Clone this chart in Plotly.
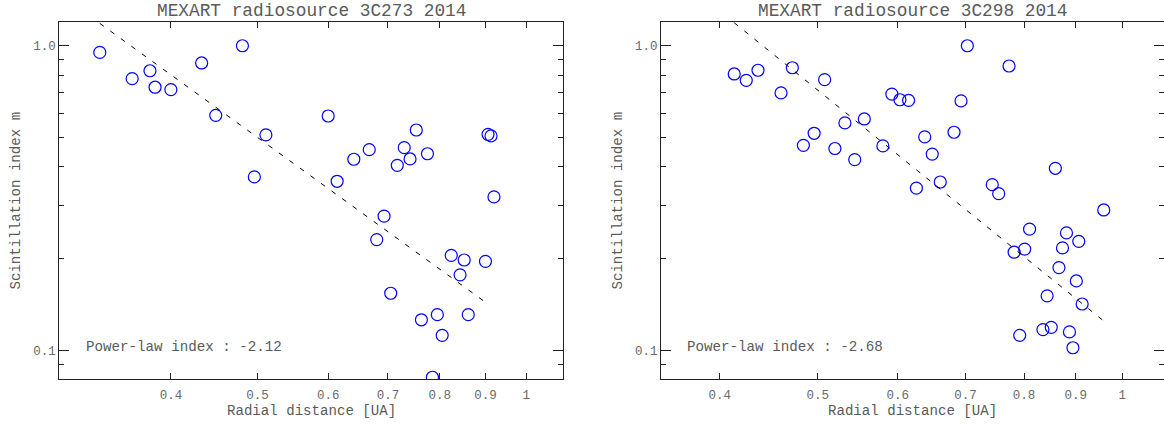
import numpy as np
import plotly.graph_objects as go

# ---------------- data: 3C273 ----------------
r_3c273 = [0.333, 0.362, 0.379, 0.384, 0.400, 0.433, 0.481, 0.449, 0.511, 0.496,
           0.600, 0.614, 0.641, 0.667, 0.717, 0.730, 0.741, 0.753, 0.775, 0.906,
           0.913, 0.920, 0.693, 0.680, 0.824, 0.852, 0.900, 0.843, 0.705, 0.763,
           0.795, 0.861, 0.805, 0.785]
m_3c273 = [0.951, 0.780, 0.828, 0.731, 0.718, 0.878, 1.000, 0.591, 0.510, 0.371,
           0.588, 0.359, 0.424, 0.456, 0.405, 0.463, 0.425, 0.529, 0.442, 0.512,
           0.506, 0.319, 0.276, 0.231, 0.205, 0.198, 0.196, 0.177, 0.154, 0.126,
           0.131, 0.131, 0.112, 0.0816]
index_3c273 = -2.12
amp_3c273 = 0.1151
fit_r_3c273 = [0.333, 0.907]

# ---------------- data: 3C298 ----------------
r_3c298 = [0.4135, 0.425, 0.4365, 0.460, 0.472, 0.508, 0.484, 0.496, 0.532, 0.520,
           0.544, 0.556, 0.580, 0.592, 0.603, 0.615, 0.638, 0.649, 0.626, 0.661,
           0.682, 0.693, 0.703, 0.773, 0.744, 0.755, 0.859, 0.959, 0.810, 0.782,
           0.801, 0.881, 0.906, 0.873, 0.866, 0.901, 0.843, 0.913, 0.835, 0.851,
           0.887, 0.792, 0.894]
m_3c298 = [0.808, 0.770, 0.831, 0.700, 0.847, 0.774, 0.471, 0.516, 0.558, 0.460,
           0.423, 0.575, 0.469, 0.694, 0.665, 0.662, 0.502, 0.441, 0.341, 0.357,
           0.520, 0.659, 1.000, 0.858, 0.350, 0.327, 0.396, 0.289, 0.250, 0.210,
           0.215, 0.243, 0.228, 0.217, 0.187, 0.169, 0.151, 0.142, 0.117, 0.119,
           0.115, 0.112, 0.102]
index_3c298 = -2.68
amp_3c298 = 0.1116
fit_r_3c298 = [0.4135, 0.958]

titles = ["MEXART radiosource 3C273 2014", "MEXART radiosource 3C298 2014"]
x_label = "Radial distance [UA]"
y_label = "Scintillation index m"
x_tickvals = [0.4, 0.5, 0.6, 0.7, 0.8, 0.9, 1.0]
x_ticktext = ["0.4", "0.5", "0.6", "0.7", "0.8", "0.9", "1"]
y_tickvals = [0.1, 1.0]
y_ticktext = ["0.1", "1.0"]
y_minor = [0.09, 0.2, 0.3, 0.4, 0.5, 0.6, 0.7, 0.8, 0.9]

FONT = "Courier New, Liberation Mono, monospace"
TXT = "#5a5a5a"
TICKTXT = "#6a6a6a"
AX = "#222222"
BLUE = "#0000ff"

W, H = 1164, 424
T, B = 22, 45
PH = H - T - B

fig = go.Figure()


def add_panel(r, m, idx, amp, fit_r, xa, ya):
    fig.add_trace(go.Scatter(
        x=r, y=m, mode="markers", xaxis=xa, yaxis=ya, showlegend=False,
        marker=dict(symbol="circle-open", size=12, color=BLUE,
                    line=dict(width=1.2, color=BLUE))))
    fr = np.array(fit_r)
    fig.add_trace(go.Scatter(
        x=fr, y=amp * fr ** idx, mode="lines", xaxis=xa, yaxis=ya,
        showlegend=False,
        line=dict(color="black", width=1, dash="5px,8px")))


add_panel(r_3c273, m_3c273, index_3c273, amp_3c273, fit_r_3c273, "x", "y")
add_panel(r_3c298, m_3c298, index_3c298, amp_3c298, fit_r_3c298, "x2", "y2")


def xaxis(dom, lo, anchor):
    return dict(type="log", domain=dom, range=[np.log10(lo), np.log10(1.1)],
                anchor=anchor, tickvals=x_tickvals, ticktext=x_ticktext,
                ticks="inside", ticklen=6, tickcolor=AX, tickwidth=1,
                showline=True, linecolor=AX, linewidth=1, mirror="ticks",
                showgrid=False, zeroline=False, automargin=False,
                ticklabelstandoff=4,
                tickfont=dict(family=FONT, size=12.5, color=TICKTXT))


def yaxis(anchor):
    return dict(type="log", domain=[0, 1], range=[-1.094, 0.078],
                anchor=anchor, tickvals=y_tickvals, ticktext=y_ticktext,
                ticks="inside", ticklen=10, tickcolor=AX, tickwidth=1,
                minor=dict(tickvals=y_minor, ticks="inside", ticklen=5,
                           tickcolor=AX, tickwidth=1, showgrid=False),
                showline=True, linecolor=AX, linewidth=1, mirror="ticks",
                showgrid=False, zeroline=False, automargin=False,
                tickfont=dict(family=FONT, size=12.5, color=TICKTXT))


dom1 = [59.3 / W, 563.3 / W]
dom2 = [661.0 / W, 1.0]

annotations = []
centers = [(dom1[0] + dom1[1]) / 2, (dom2[0] + dom2[1]) / 2]
for i, c in enumerate(centers):
    annotations.append(dict(text=titles[i], x=c, y=1 + (T - 10.5) / PH,
                            xref="paper", yref="paper", showarrow=False,
                            xanchor="center", yanchor="middle",
                            font=dict(family=FONT, size=17.8, color=TXT)))
    annotations.append(dict(text=x_label, x=c, y=-(411 - (H - B)) / PH,
                            xref="paper", yref="paper", showarrow=False,
                            xanchor="center", yanchor="middle",
                            font=dict(family=FONT, size=14.1, color=TXT)))
ytitle_x = [15.0, 617.0]
for xx in ytitle_x:
    annotations.append(dict(text=y_label, x=xx / W, y=0.5, textangle=-90,
                            xref="paper", yref="paper", showarrow=False,
                            xanchor="center", yanchor="middle",
                            font=dict(family=FONT, size=14.1, color=TXT)))
pl_texts = ["Power-law index : %.2f" % index_3c273,
            "Power-law index : %.2f" % index_3c298]
pl_x = [84.4, 685.2]
for t, xx in zip(pl_texts, pl_x):
    annotations.append(dict(text=t, x=xx / W, y=((H - B) - 347) / PH,
                            xref="paper", yref="paper", showarrow=False,
                            xanchor="left", yanchor="middle",
                            font=dict(family=FONT, size=14.2, color=TXT)))

fig.update_layout(
    template="none",
    width=W, height=H,
    margin=dict(l=0, r=0, t=T, b=B, pad=0),
    paper_bgcolor="white", plot_bgcolor="white",
    font=dict(family=FONT, color=TXT),
    xaxis=xaxis(dom1, 0.3, "y"),
    yaxis=yaxis("x"),
    xaxis2=xaxis(dom2, 0.35, "y2"),
    yaxis2=yaxis("x2"),
    annotations=annotations,
    showlegend=False,
)

fig.write_html("out.html")
